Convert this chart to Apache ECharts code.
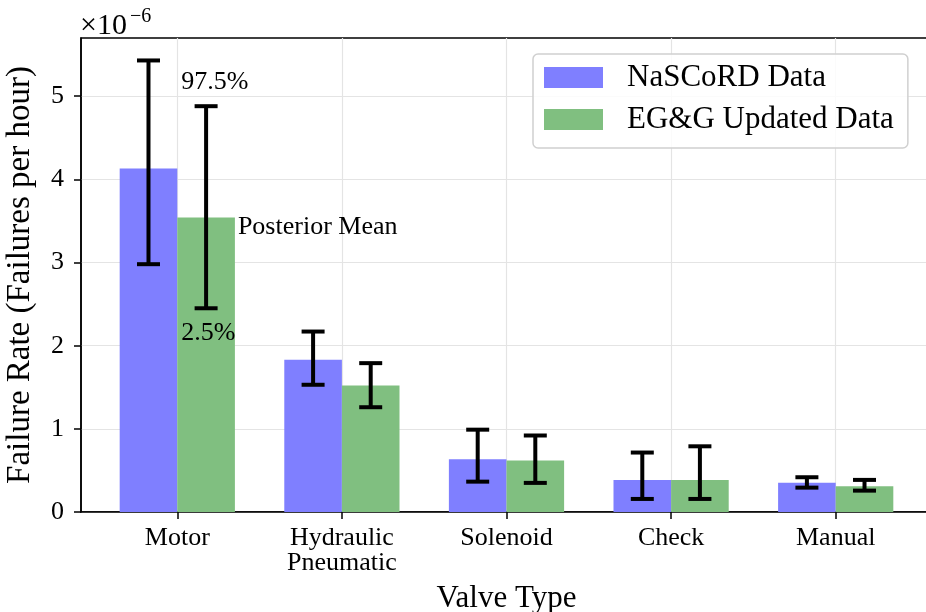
<!DOCTYPE html>
<html>
<head>
<meta charset="utf-8">
<script src="https://cdn.jsdelivr.net/npm/echarts@6/dist/echarts.min.js"></script>
<style>html,body{margin:0;padding:0;background:#fff}#c{width:926px;height:612px}</style>
</head>
<body>
<div id="c"></div>
<script>
// ---- data (values in units of 1e-6 failures per hour) ----
const categories = ['Motor', 'Hydraulic\nPneumatic', 'Solenoid', 'Check', 'Manual'];
const nascordMean = [4.13, 1.83, 0.635, 0.385, 0.353];
const nascordLow  = [2.98, 1.53, 0.365, 0.157, 0.293];
const nascordHigh = [5.43, 2.17, 0.99, 0.715, 0.418];
const eggMean = [3.54, 1.52, 0.62, 0.385, 0.31];
const eggLow  = [2.45, 1.26, 0.35, 0.157, 0.257];
const eggHigh = [4.88, 1.79, 0.92, 0.79, 0.386];
const yTicks = [0, 1, 2, 3, 4, 5];
const seriesNames = ['NaSCoRD Data', 'EG&G Updated Data'];
const annotationTexts = ['97.5%', 'Posterior Mean', '2.5%'];

const FONT = 'Liberation Serif';
const BLUE = '#7f7fff';
const GREEN = '#80bf80';
const HALF = 0.35;
const xIdx = categories.map((c, i) => i);

function barRender(side, color) {
  return function (params, api) {
    const x = api.value(0), y = api.value(1);
    const a = side < 0 ? x - HALF : x;
    const p0 = api.coord([a, y]);
    const p1 = api.coord([a + HALF, 0]);
    return {
      type: 'rect',
      shape: { x: p0[0], y: p0[1], width: p1[0] - p0[0], height: p1[1] - p0[1] },
      style: { fill: color }
    };
  };
}
function errRender(side) {
  return function (params, api) {
    const x = api.value(0) + side * HALF / 2;
    const lo = api.coord([x, api.value(1)]);
    const hi = api.coord([x, api.value(2)]);
    const cw = 11.5;
    const st = { stroke: '#000', lineWidth: 4 };
    return {
      type: 'group',
      children: [
        { type: 'line', shape: { x1: lo[0], y1: lo[1], x2: hi[0], y2: hi[1] }, style: st },
        { type: 'line', shape: { x1: lo[0] - cw, y1: lo[1], x2: lo[0] + cw, y2: lo[1] }, style: st },
        { type: 'line', shape: { x1: hi[0] - cw, y1: hi[1], x2: hi[0] + cw, y2: hi[1] }, style: st }
      ]
    };
  };
}
// annotations anchored to the Motor / EG&G bar: x = category index (left edge of green bar)
function annRender(params, api) {
  const x = api.value(0);
  const hi = api.coord([x, api.value(1)]);
  const mean = api.coord([x + HALF, api.value(2)]);
  const lo = api.coord([x, api.value(3)]);
  const ts = { fill: '#000', fontFamily: FONT, fontSize: 26 };
  return {
    type: 'group',
    children: [
      { type: 'text', x: hi[0] + 4, y: hi[1] - 24, style: Object.assign({ text: annotationTexts[0], align: 'left', verticalAlign: 'middle' }, ts) },
      { type: 'text', x: mean[0] + 3, y: mean[1] - 3, style: Object.assign({ text: annotationTexts[1], align: 'left', verticalAlign: 'top' }, ts) },
      { type: 'text', x: lo[0] + 4, y: lo[1] + 25, style: Object.assign({ text: annotationTexts[2], align: 'left', verticalAlign: 'middle' }, ts) }
    ]
  };
}

const chart = echarts.init(document.getElementById('c'), null, { renderer: 'canvas' });
chart.setOption({
  animation: false,
  backgroundColor: '#fff',
  textStyle: { fontFamily: FONT, color: '#000' },
  grid: {
    left: 81, right: -6, top: 38, bottom: 100,
    show: true, borderColor: '#000', borderWidth: 1.5,
    containLabel: false, outerBoundsMode: 'none'
  },
  legend: {
    orient: 'vertical', left: 533, top: 54,
    padding: [8, 14, 13, 11],
    itemWidth: 59, itemHeight: 21, itemGap: 11,
    backgroundColor: 'rgba(255,255,255,0.85)',
    borderColor: '#d0d0d0', borderWidth: 1.5, borderRadius: 5,
    textStyle: { fontFamily: FONT, fontSize: 31, lineHeight: 31, color: '#000', padding: [0, 0, 0, 19] },
    data: [
      { name: seriesNames[0], icon: 'rect', itemStyle: { color: BLUE } },
      { name: seriesNames[1], icon: 'rect', itemStyle: { color: GREEN } }
    ]
  },
  xAxis: {
    type: 'value', min: -0.585, max: 4.585,
    name: 'Valve Type', nameLocation: 'middle', nameGap: 71,
    nameTextStyle: { fontFamily: FONT, fontSize: 31, color: '#000' },
    axisLine: { show: true, onZero: false, lineStyle: { color: '#000', width: 1.5 } },
    axisTick: { show: true, length: 7, inside: false, customValues: xIdx, lineStyle: { color: '#000', width: 1.5 } },
    axisLabel: {
      customValues: xIdx, margin: 14, fontFamily: FONT, fontSize: 26, lineHeight: 25, color: '#000',
      formatter: v => categories[Math.round(v)] || ''
    },
    splitLine: { show: true, lineStyle: { color: '#e4e4e4', width: 1.2 } }
  },
  yAxis: {
    type: 'value', min: 0, max: 5.7,
    name: 'Failure Rate (Failures per hour)', nameLocation: 'middle', nameGap: 44, nameRotate: 90,
    nameTextStyle: { fontFamily: FONT, fontSize: 33, color: '#000' },
    axisLine: { show: true, onZero: false, lineStyle: { color: '#000', width: 1.5 } },
    axisTick: { show: true, length: 7, inside: false, customValues: yTicks, lineStyle: { color: '#000', width: 1.5 } },
    axisLabel: { customValues: yTicks, margin: 17, fontFamily: FONT, fontSize: 26, color: '#000' },
    splitLine: { show: true, lineStyle: { color: '#e4e4e4', width: 1.2 } }
  },
  graphic: [
    { type: 'text', left: 80, top: 11, style: { text: '×10', fontFamily: FONT, fontSize: 30, fill: '#000' } },
    { type: 'text', left: 130, top: 7, style: { text: '−6', fontFamily: FONT, fontSize: 20, fill: '#000' } }
  ],
  series: [
    {
      name: seriesNames[0], type: 'custom', itemStyle: { color: BLUE },
      renderItem: barRender(-1, BLUE), encode: { x: 0, y: 1 },
      data: xIdx.map(i => [i, nascordMean[i]])
    },
    {
      name: seriesNames[1], type: 'custom', itemStyle: { color: GREEN },
      renderItem: barRender(1, GREEN), encode: { x: 0, y: 1 },
      data: xIdx.map(i => [i, eggMean[i]])
    },
    {
      name: 'nascordErr', type: 'custom', z: 5,
      renderItem: errRender(-1), encode: { x: 0, y: [1, 2] },
      data: xIdx.map(i => [i, nascordLow[i], nascordHigh[i]])
    },
    {
      name: 'eggErr', type: 'custom', z: 5,
      renderItem: errRender(1), encode: { x: 0, y: [1, 2] },
      data: xIdx.map(i => [i, eggLow[i], eggHigh[i]])
    },
    {
      name: 'annotations', type: 'custom', z: 6, clip: false,
      renderItem: annRender, encode: { x: 0, y: [1, 2, 3] },
      data: [[0, eggHigh[0], eggMean[0], eggLow[0]]]
    }
  ]
});
</script>
</body>
</html>
